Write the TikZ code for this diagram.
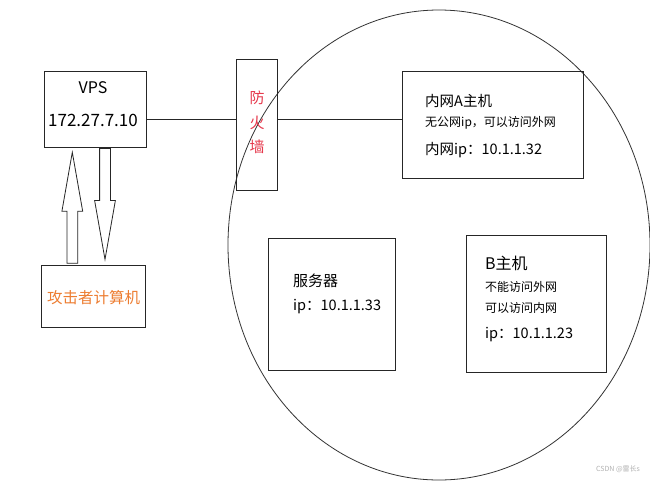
\documentclass[tikz,border=0pt]{standalone}
\usepackage{fontspec}
\setmainfont{Noto Sans CJK SC}
\usetikzlibrary{shapes.arrows}
\definecolor{fwred}{RGB}{230,55,75}
\definecolor{atkorange}{RGB}{237,125,49}
\tikzset{
	box/.style={draw=black!85, line width=0.8pt, inner sep=0pt},
	lbl/.style={anchor=west, inner sep=0pt},
	wire/.style={draw=black!85, line width=0.8pt},
	blockarrow/.style={single arrow, draw=black!85, line width=0.8pt, inner sep=5pt, minimum height=111pt, single arrow head extend=5pt, single arrow tip angle=20, rotate=#1, anchor=tip}
}
\newcommand{\fs}[1]{\fontsize{#1}{#1}\selectfont}
\begin{document}
\begin{tikzpicture}[x=1pt, y=-1pt]
	\useasboundingbox [fill=white] (0,0) rectangle (650,480);
	\begin{scope}
		\clip (0,0) rectangle (650,480);
		\draw [line width=0.8pt, black!80] (439,245) ellipse [x radius=211, y radius=235];
	\end{scope}
	\node (vps) [box, minimum width=102pt, minimum height=76pt] at (95,109) {};
	\node (fw) [box, minimum width=41pt, minimum height=131pt] at (257.3,124.5) {};
	\node (hostA) [box, minimum width=181pt, minimum height=107pt] at (492.7,125) {};
	\node (server) [box, minimum width=127pt, minimum height=132pt] at (332.2,304.2) {};
	\node (hostB) [box, minimum width=140pt, minimum height=137pt] at (536.7,303.8) {};
	\node (atk) [box, minimum width=104pt, minimum height=62pt] at (93.7,296.2) {};
	\node (vpsname) [inner sep=0pt] at (93,88) {\fs{16}VPS};
	\node (vpsip) [inner sep=0pt] at (93,120) {\fs{17}172.27.7.10};
	\node (fwname) [inner sep=0pt, align=center, text=fwred, font=\fontsize{15}{24.5}\selectfont] at (257,122.5) {防\\火\\墙};
	\node (atkname) [inner sep=0pt, text=atkorange] at (93.7,297.3) {\fs{15.5}攻击者计算机};
	\node (aname) [lbl] at (425,101) {\fs{14.5}内网A主机};
	\node (anote) [lbl] at (425,123) {\fs{12}无公网ip，可以访问外网};
	\node (aip) [lbl] at (425,150) {\fs{14.5}内网ip：10.1.1.32};
	\node (sname) [lbl] at (293,281) {\fs{15}服务器};
	\node (sip) [lbl] at (293,307) {\fs{14.5}ip：10.1.1.33};
	\node (bname) [lbl] at (485,263) {\fs{16}B主机};
	\node (bnote1) [lbl] at (485,287) {\fs{12}不能访问外网};
	\node (bnote2) [lbl] at (485,308) {\fs{12}可以访问内网};
	\node (bip) [lbl] at (485,335) {\fs{14.5}ip：10.1.1.23};
	\draw [wire] ([yshift=-10pt]vps.east) -- ([yshift=-10pt]vps.east -| fw.west);
	\draw [wire] ([yshift=6pt]hostA.west -| fw.east) -- ([yshift=6pt]hostA.west);
	\node (up) [blockarrow=90] at (72.3,150) {};
	\node (down) [blockarrow=-90] at (105,261.7) {};
	\node (mark) [inner sep=0pt, text=black!30] at (618,469) {\fs{7}CSDN @雷长s};
\end{tikzpicture}
\end{document}
